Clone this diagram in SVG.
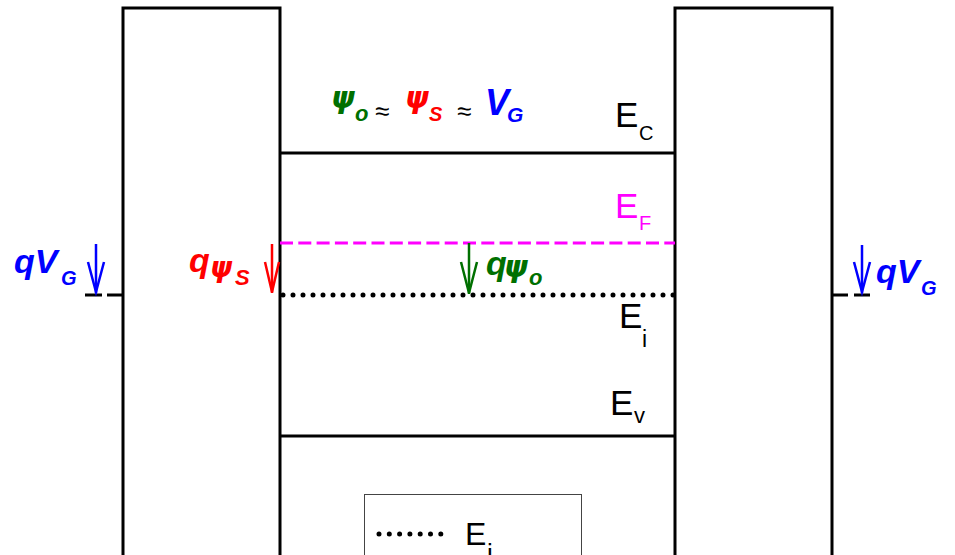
<svg xmlns="http://www.w3.org/2000/svg" width="955" height="555" viewBox="0 0 955 555">
<style>
.ln{stroke:#000;stroke-width:3;fill:none}
.t{font-family:"Liberation Sans",Arial,sans-serif}
.b{font-weight:bold;font-style:italic}
.g{font-family:"DejaVu Sans",sans-serif;font-style:oblique;font-weight:bold}
.ar{stroke-width:2.5;fill:none}
</style>
<rect width="955" height="555" fill="#fff"/>
<g id="left-oxide">
<polyline class="ln" points="123,555 123,8 280,8 280,555"/>
</g>
<g id="right-oxide">
<polyline class="ln" points="675,555 675,8 832,8 832,555"/>
</g>
<g id="bands">
<line class="ln" x1="280" y1="153" x2="675" y2="153"/>
<line class="ln" x1="280" y1="436" x2="675" y2="436"/>
<line x1="280" y1="243" x2="675" y2="243" stroke="#ff00ff" stroke-width="3" stroke-dasharray="13,5.3"/>
<line x1="283" y1="295" x2="675" y2="295" stroke="#000" stroke-width="5" stroke-linecap="round" stroke-dasharray="0,10"/>
<line x1="85" y1="295" x2="123" y2="295" stroke="#000" stroke-width="3" stroke-dasharray="17,5"/>
<line x1="832" y1="295" x2="872" y2="295" stroke="#000" stroke-width="3" stroke-dasharray="16,6"/>
</g>
<g id="connectors">
<g class="ar" stroke="#0000ff">
<line x1="96" y1="244" x2="96" y2="293"/><polyline points="88,262 96,292 104,262"/>
<line x1="862" y1="245" x2="862" y2="293"/><polyline points="854,262 862,292 870,262"/>
</g>
<g class="ar" stroke="#ff0000">
<line x1="272" y1="244" x2="272" y2="293"/><polyline points="265,262 272,292 279,262"/>
</g>
<g class="ar" stroke="#007000">
<line x1="469" y1="243" x2="469" y2="294"/><polyline points="461,262 469,293 477,262"/>
</g>
</g>
<g id="labels">
<text class="t" x="615" y="127" font-size="35">E</text><text class="t" x="639" y="140" font-size="20">C</text>
<text class="t" x="615" y="218" font-size="35" fill="#ff00ff">E</text><text class="t" x="639" y="230" font-size="20" fill="#ff00ff">F</text>
<text class="t" x="619" y="328" font-size="35">E</text><text class="t" x="642" y="347" font-size="23">i</text>
<text class="t" x="610" y="415" font-size="35">E</text><text class="t" x="634" y="423" font-size="22">v</text>
<text class="t b" x="14" y="273" font-size="34" fill="#0000ff">qV</text><text class="t b" x="61" y="285" font-size="20" fill="#0000ff">G</text>
<text class="t b" x="876" y="283" font-size="34" fill="#0000ff">qV</text><text class="t b" x="921" y="295" font-size="20" fill="#0000ff">G</text>
<text class="t b" x="189" y="272" font-size="34" fill="#ff0000">q</text><text class="g" x="210" y="277" font-size="28" fill="#ff0000">ψ</text><text class="t b" x="235" y="285" font-size="22" fill="#ff0000">S</text>
<text class="t b" x="486" y="275" font-size="34" fill="#007000">q</text><text class="g" x="504" y="277" font-size="30" fill="#007000">ψ</text><text class="t b" x="529" y="285" font-size="22" fill="#007000">o</text>
<text class="g" x="331" y="108" font-size="30" fill="#007000">ψ</text><text class="t b" x="355" y="121" font-size="22" fill="#007000">o</text>
<text class="t" x="375" y="120" font-size="26">≈</text>
<text class="g" x="405" y="108" font-size="30" fill="#ff0000">ψ</text><text class="t b" x="429" y="121" font-size="20" fill="#ff0000">S</text>
<text class="t" x="457" y="120" font-size="26">≈</text>
<text class="t b" x="485" y="115" font-size="36" fill="#0000ff">V</text><text class="t b" x="507" y="122" font-size="21" fill="#0000ff">G</text>
</g>
<g id="legend">
<rect x="364.5" y="494.5" width="217" height="70" fill="#fff" stroke="#444" stroke-width="1"/>
<line x1="379" y1="534" x2="451" y2="534" stroke="#000" stroke-width="5" stroke-linecap="round" stroke-dasharray="0,10.3"/>
<text class="t" x="465" y="545" font-size="32">E</text><text class="t" x="487" y="562" font-size="26">i</text>
</g>
</svg>
